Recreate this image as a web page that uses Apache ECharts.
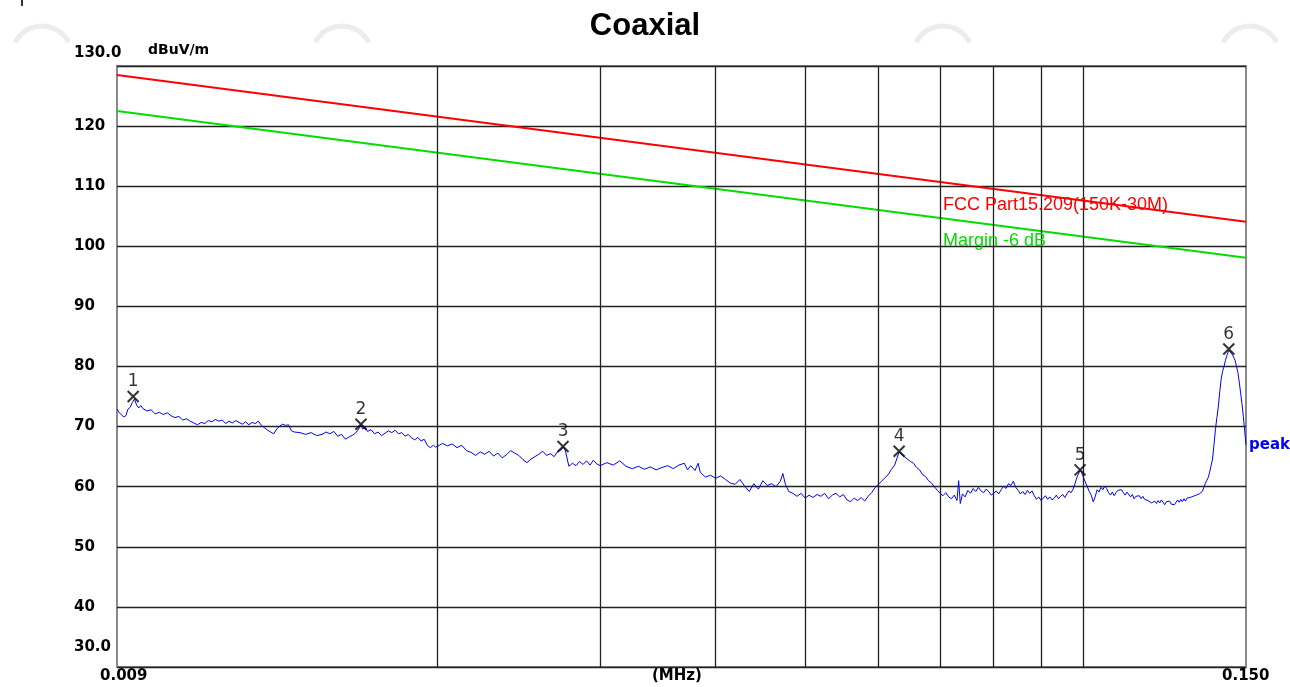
<!DOCTYPE html>
<html style="height: 100%">
<head>
<meta charset="utf-8">
<script src="https://cdn.jsdelivr.net/npm/echarts@6/dist/echarts.min.js"></script>
</head>
<body style="height: 100%; margin: 0; background: #fff">
<div id="container" style="width: 1290px; height: 687px"></div>
<script type="text/javascript">
// trace (frequency in MHz, level in dBuV/m)
var freqs = [
  0.00900, 0.00905, 0.00910, 0.00915, 0.00920, 0.00925, 0.00930, 0.00935, 0.00940, 0.00945,
  0.00950, 0.00955, 0.0096, 0.0097, 0.0098, 0.0099, 0.0100, 0.0101, 0.0102, 0.0103,
  0.0104, 0.0105, 0.0106, 0.0107, 0.0108, 0.0109, 0.0110, 0.0111, 0.0112, 0.0113,
  0.0114, 0.0115, 0.0116, 0.0117, 0.0118, 0.0119, 0.0120, 0.0121, 0.0122, 0.0123,
  0.0124, 0.0125, 0.0126, 0.0127, 0.0128, 0.0129, 0.0130, 0.0131, 0.0132, 0.0133,
  0.0134, 0.0135, 0.0136, 0.0137, 0.0138, 0.0139, 0.0140, 0.0142, 0.0144, 0.0146,
  0.0148, 0.01500, 0.01515, 0.01530, 0.01545, 0.01560, 0.01575, 0.01590, 0.01605, 0.01620,
  0.01630, 0.01640, 0.01653, 0.01660, 0.01670, 0.01680, 0.01695, 0.01710, 0.01725, 0.01740,
  0.01755, 0.01770, 0.01785, 0.01800, 0.01815, 0.01830, 0.01845, 0.01860, 0.01875, 0.01890,
  0.01905, 0.01920, 0.01935, 0.01950, 0.01965, 0.01980, 0.01990, 0.02000, 0.02025, 0.02050,
  0.02075, 0.02100, 0.02125, 0.02150, 0.02175, 0.02200, 0.02225, 0.02250, 0.02275, 0.02300,
  0.02325, 0.02350, 0.02375, 0.02400, 0.02425, 0.02450, 0.02475, 0.02500, 0.02525, 0.02550,
  0.02575, 0.02600, 0.02625, 0.02650, 0.02675, 0.02700, 0.02725, 0.02735, 0.02750, 0.02775,
  0.02800, 0.02825, 0.02850, 0.02875, 0.02900, 0.02925, 0.02950, 0.02975, 0.03000, 0.0305,
  0.0310, 0.0315, 0.0320, 0.0325, 0.0330, 0.0335, 0.0340, 0.0345, 0.0350, 0.0355,
  0.0360, 0.0365, 0.0370, 0.0373, 0.0376, 0.0380, 0.0383, 0.0385, 0.0390, 0.0395,
  0.0400, 0.0405, 0.0410, 0.0415, 0.0420, 0.0425, 0.0430, 0.0435, 0.0440, 0.0445,
  0.0450, 0.0455, 0.0460, 0.0465, 0.0470, 0.0473, 0.0476, 0.0480, 0.0485, 0.0490,
  0.0495, 0.0500, 0.0505, 0.0510, 0.0515, 0.0520, 0.0525, 0.0530, 0.0535, 0.0540,
  0.0545, 0.0550, 0.0555, 0.0560, 0.0565, 0.0570, 0.0575, 0.0580, 0.0585, 0.0590,
  0.0595, 0.0600, 0.0605, 0.0610, 0.0615, 0.0620, 0.0625, 0.0632, 0.0636, 0.0640,
  0.0645, 0.0650, 0.0655, 0.0660, 0.0665, 0.0670, 0.0675, 0.0680, 0.0685, 0.0690,
  0.0695, 0.0700, 0.0705, 0.0710, 0.0715, 0.0720, 0.0725, 0.0730, 0.0733, 0.0736,
  0.0740, 0.0745, 0.0750, 0.0755, 0.0760, 0.0765, 0.0770, 0.0775, 0.0780, 0.0785,
  0.0790, 0.0795, 0.0800, 0.0805, 0.0810, 0.0815, 0.0820, 0.0825, 0.0830, 0.0835,
  0.0840, 0.0845, 0.0850, 0.0855, 0.0860, 0.0865, 0.0870, 0.0875, 0.0880, 0.0885,
  0.0890, 0.0895, 0.0900, 0.0905, 0.0910, 0.0915, 0.0920, 0.0925, 0.0930, 0.0935,
  0.0940, 0.0945, 0.0950, 0.0955, 0.0960, 0.0965, 0.0970, 0.0975, 0.0980, 0.0985,
  0.0992, 0.0996, 0.1000, 0.1005, 0.1010, 0.1015, 0.1020, 0.1025, 0.1030, 0.1035,
  0.1040, 0.1045, 0.1050, 0.1055, 0.1060, 0.1065, 0.1070, 0.1075, 0.1080, 0.1085,
  0.1090, 0.1095, 0.1100, 0.1105, 0.1110, 0.1115, 0.1120, 0.1125, 0.1130, 0.1135,
  0.1140, 0.1145, 0.1150, 0.1155, 0.1160, 0.1165, 0.1170, 0.1175, 0.1180, 0.1185,
  0.1190, 0.1195, 0.1200, 0.1205, 0.1210, 0.1215, 0.1220, 0.1225, 0.1230, 0.1235,
  0.1240, 0.1245, 0.1250, 0.1255, 0.1260, 0.1265, 0.1270, 0.1275, 0.1280, 0.1285,
  0.1290, 0.1295, 0.1300, 0.1305, 0.1310, 0.1315, 0.1320, 0.1325, 0.1330, 0.1335,
  0.1340, 0.1345, 0.1350, 0.1355, 0.1360, 0.1365, 0.1370, 0.1375, 0.1380, 0.1385,
  0.1390, 0.1395, 0.1400, 0.1405, 0.1410, 0.1415, 0.1420, 0.1425, 0.1430, 0.1437,
  0.1443, 0.1450, 0.1460, 0.1470, 0.1475, 0.1480, 0.1485, 0.1490, 0.1495, 0.1500
];
var levels = [
  72.9, 72.3, 72.0, 71.6, 71.8, 72.9, 73.2, 74.0, 74.6, 73.6,
  73.1, 73.5, 73.0, 72.6, 72.8, 72.1, 72.4, 72.0, 72.3, 71.8,
  71.5, 71.7, 71.1, 71.3, 70.9, 70.6, 70.3, 70.7, 70.5, 71.0,
  70.8, 71.2, 70.9, 71.1, 70.5, 70.9, 70.6, 71.0, 70.7, 70.4,
  70.8, 70.3, 70.7, 70.5, 70.9, 70.2, 69.8, 69.4, 69.1, 68.8,
  69.6, 70.1, 70.4, 70.2, 70.3, 69.3, 69.1, 69.0, 68.7, 69.0,
  68.5, 68.7, 69.1, 68.8, 69.2, 68.4, 68.7, 67.9, 68.3, 68.6,
  68.9, 69.4, 70.3, 69.6, 69.9, 69.2, 69.5, 68.8, 69.1, 68.5,
  68.9, 69.3, 69.0, 69.4, 68.8, 69.0, 68.4, 68.7, 68.1, 67.8,
  68.2, 67.6, 67.9, 66.9, 66.5, 66.9, 66.6, 66.7, 67.2, 66.8,
  67.1, 66.5, 66.9, 66.0, 65.7, 65.2, 65.8, 65.4, 65.9, 65.1,
  65.6, 64.8, 65.3, 66.0, 65.6, 65.2, 64.5, 64.0, 64.6, 65.0,
  65.4, 65.9, 65.2, 65.5, 65.0, 65.9, 66.2, 66.6, 66.1, 63.4,
  63.9, 63.5, 64.2, 63.7, 64.3, 63.6, 64.4, 63.8, 63.5, 64.0,
  63.6, 64.3, 63.4, 63.0, 63.4, 62.9, 63.3, 62.8, 63.2, 63.5,
  63.0, 63.6, 63.9, 62.8, 63.5, 62.7, 63.9, 62.4, 61.6, 61.9,
  61.4, 61.8, 61.2, 60.6, 60.4, 61.2, 60.1, 59.2, 60.5, 59.6,
  61.0, 60.2, 60.5, 60.0, 60.9, 62.2, 60.4, 59.2, 58.9, 58.4,
  58.9, 58.1, 58.6, 58.2, 58.7, 58.4, 58.9, 58.0, 58.6, 58.9,
  58.3, 58.7, 57.8, 57.5, 58.1, 57.7, 58.2, 57.6, 58.4, 59.0,
  59.8, 60.4, 60.9, 61.5, 62.0, 62.9, 63.6, 65.8, 65.3, 65.0,
  64.6, 64.2, 63.9, 63.2, 62.8, 62.0, 61.7, 61.0, 60.6, 60.0,
  59.4, 58.9, 58.5, 59.0, 58.3, 58.0, 58.6, 57.7, 61.0, 57.2,
  58.8, 58.3, 59.4, 58.9, 59.7, 59.2, 59.9, 59.3, 59.0, 59.6,
  59.2, 58.6, 58.9, 59.3, 58.8, 59.5, 60.1, 59.7, 60.5, 60.2,
  60.9, 59.9, 59.4, 58.8, 59.2, 58.7, 59.4, 58.9, 59.3, 58.5,
  57.9, 58.3, 57.7, 58.1, 58.5, 57.9, 58.3, 57.8, 58.1, 58.6,
  58.0, 58.4, 58.7, 58.2, 58.8, 59.3, 59.0, 59.6, 60.6, 61.7,
  62.7, 62.3, 61.6, 60.8, 60.0, 59.2, 58.6, 57.5, 58.3, 59.5,
  59.1, 59.9, 59.5, 60.1, 59.7, 59.0, 58.6, 59.1, 58.5, 59.0,
  59.4, 59.1, 59.5, 59.0, 58.6, 59.1, 58.8, 58.3, 58.7, 58.0,
  58.4, 58.1, 58.5, 58.0, 58.4, 57.9, 58.2, 57.7, 58.0, 57.3,
  57.0, 57.6, 57.2, 57.7, 57.3, 57.8, 57.4, 57.0, 57.5, 57.2,
  57.6, 57.1, 57.4, 57.0, 57.3, 57.8, 57.4, 57.9, 57.5, 58.0,
  57.6, 58.1, 57.8, 58.2, 57.9, 58.4, 58.1, 58.6, 58.3, 58.8,
  58.5, 59.2, 59.8, 60.5, 61.0, 61.5, 62.4, 63.5, 64.6, 67.0,
  69.5, 71.5, 73.3, 75.8, 77.9, 79.2, 80.0, 81.0, 81.8, 82.7,
  82.4, 82.0, 81.0, 79.0, 77.4, 75.6, 73.8, 71.7, 69.3, 67.0
];

// limit line (FCC Part15.209) and the 6 dB margin line
var limitFreqs = [0.009, 0.150];
var limitLevels = [128.5, 104.1];
var marginLevels = [122.5, 98.1];

// marked peaks
var markNames = ['1', '2', '3', '4', '5', '6'];
var markFreqs = [0.00937, 0.01653, 0.02735, 0.0632, 0.0992, 0.1437];
var markLevels = [75.0, 70.4, 66.7, 65.9, 62.8, 82.9];

// vertical grid frequencies
var gridFreqs = [0.02, 0.03, 0.04, 0.05, 0.06, 0.07, 0.08, 0.09, 0.1];

var dom = document.getElementById('container');
var myChart = echarts.init(dom);

function zip(xs, ys) {
    return xs.map(function (x, i) { return [x, ys[i]]; });
}

var lab = { fontFamily: 'DejaVu Sans', fontWeight: 'bold', fontSize: 15, fill: '#000' };
function txt(s, left, top, extra) {
    var style = Object.assign({ text: s }, lab, extra || {});
    return { type: 'text', left: left, top: top, style: style, z: 10 };
}
function logo(cx) {
    return {
        type: 'arc', shape: { cx: cx, cy: 56, r: 30, startAngle: Math.PI * 1.15, endAngle: Math.PI * 1.85 },
        style: { stroke: '#ececec', lineWidth: 5, fill: null }, z: 0
    };
}

var option = {
    animation: false,
    backgroundColor: '#fff',
    title: {
        text: 'Coaxial',
        left: 'center',
        top: 6,
        textStyle: { fontFamily: 'Liberation Sans', fontWeight: 'bold', fontSize: 31, color: '#000' }
    },
    grid: {
        left: 117, right: 44, top: 66, bottom: 20,
        show: true, borderColor: '#8a8a8a', borderWidth: 2, backgroundColor: 'transparent'
    },
    xAxis: {
        type: 'log',
        logBase: 10,
        min: 0.009,
        max: 0.150,
        axisLine: { show: false },
        axisTick: { show: false },
        axisLabel: { show: false },
        splitLine: { show: false }
    },
    yAxis: {
        type: 'value',
        min: 30,
        max: 130,
        interval: 10,
        axisLine: { show: false },
        axisTick: { show: false },
        axisLabel: {
            showMinLabel: false,
            showMaxLabel: false,
            align: 'left',
            margin: 43,
            fontFamily: 'DejaVu Sans',
            fontWeight: 'bold',
            fontSize: 15,
            color: '#000'
        },
        splitLine: { lineStyle: { color: '#222', width: 1.3 } }
    },
    graphic: [
        logo(42), logo(342), logo(943), logo(1250),
        { type: 'rect', shape: { x: 21, y: 0, width: 2, height: 6 }, style: { fill: '#333' } },
        txt('dBuV/m', 148, 43, { fontSize: 14 }),
        txt('130.0', 74, 46),
        txt('30.0', 74, 640),
        txt('0.009', 100, 669),
        txt('(MHz)', 652, 669),
        txt('0.150', 1222, 669),
        txt('FCC Part15.209(150K-30M)', 943, 196,
            { fontFamily: 'Liberation Sans', fontWeight: 'normal', fontSize: 18, fill: '#ff0000' }),
        txt('Margin -6 dB', 943, 232,
            { fontFamily: 'Liberation Sans', fontWeight: 'normal', fontSize: 18, fill: '#00dd00' })
    ],
    series: [
        {
            // carries the vertical grid lines
            type: 'line',
            z: 1,
            silent: true,
            symbol: 'none',
            lineStyle: { opacity: 0 },
            data: zip(limitFreqs, limitLevels),
            markLine: {
                silent: true,
                symbol: ['none', 'none'],
                label: { show: false },
                lineStyle: { color: '#222', width: 1.3, type: 'solid' },
                data: gridFreqs.map(function (f) { return { xAxis: f }; })
            }
        },
        {
            name: 'FCC Part15.209',
            type: 'line',
            z: 3,
            symbol: 'none',
            lineStyle: { color: '#ff0000', width: 2 },
            data: zip(limitFreqs, limitLevels)
        },
        {
            name: 'Margin',
            type: 'line',
            z: 3,
            symbol: 'none',
            lineStyle: { color: '#00dd00', width: 2 },
            data: zip(limitFreqs, marginLevels)
        },
        {
            name: 'peak',
            type: 'line',
            z: 4,
            symbol: 'none',
            lineStyle: { color: '#0000ff', width: 1 },
            data: zip(freqs, levels),
            endLabel: {
                show: true,
                formatter: 'peak',
                distance: 3,
                color: '#0000ff',
                fontFamily: 'DejaVu Sans',
                fontWeight: 'bold',
                fontSize: 15
            }
        },
        {
            name: 'marks',
            type: 'scatter',
            z: 5,
            symbol: 'path://M0,0L10,10M10,0L0,10',
            symbolSize: 11,
            itemStyle: { color: 'none', borderColor: '#000', borderWidth: 2 },
            label: {
                show: true,
                position: 'top',
                distance: -2,
                formatter: '{b}',
                color: '#000',
                fontFamily: 'DejaVu Sans',
                fontSize: 17
            },
            data: markFreqs.map(function (f, i) {
                return { name: markNames[i], value: [f, markLevels[i]] };
            })
        }
    ]
};

myChart.setOption(option);
</script>
</body>
</html>
